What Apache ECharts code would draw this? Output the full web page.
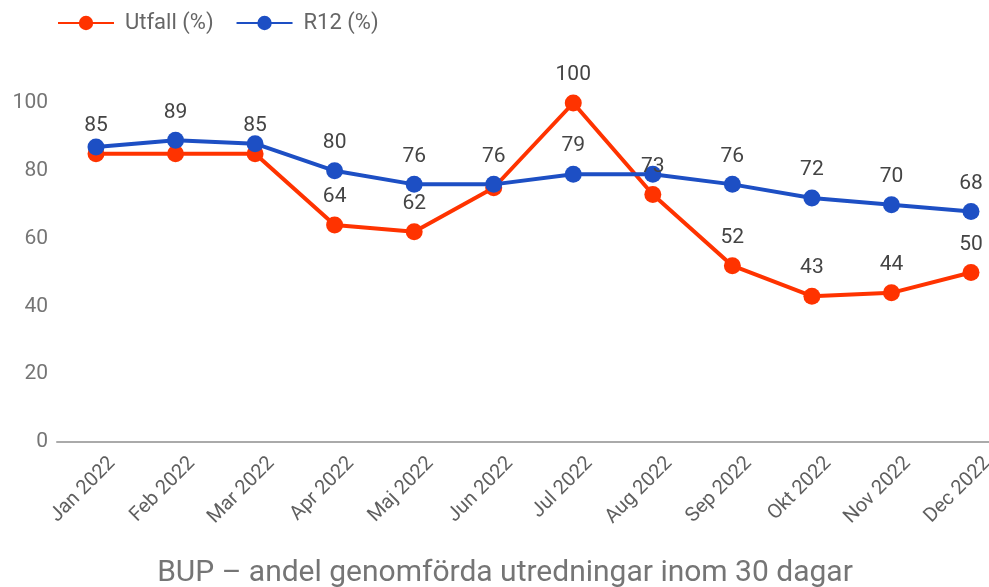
<!DOCTYPE html>
<html>
<head>
<meta charset="utf-8">
<script src="https://cdn.jsdelivr.net/npm/echarts@6/dist/echarts.min.js"></script>
<style>
  html, body { margin: 0; padding: 0; background: #fff; }
  #chart { width: 989px; height: 587px; }
</style>
</head>
<body>
<div id="chart"></div>
<script>
// kategorier och värden
var months = ['Jan 2022', 'Feb 2022', 'Mar 2022', 'Apr 2022', 'Maj 2022', 'Jun 2022',
  'Jul 2022', 'Aug 2022', 'Sep 2022', 'Okt 2022', 'Nov 2022', 'Dec 2022'];
var utfall = [85, 85, 85, 64, 62, 75, 100, 73, 52, 43, 44, 50];
var r12 = [87, 89, 88, 80, 76, 76, 79, 79, 76, 72, 70, 68];
var yTicks = [0, 20, 40, 60, 80, 100];

// etiketter som döljs där de krockar
var utfallHidden = [1, 5];
var r12Hidden = [0, 2, 7];

function withLabels(values, hidden) {
  return values.map(function (v, i) {
    return hidden.indexOf(i) >= 0 ? { value: v, label: { show: false } } : v;
  });
}

window.onload = function () {
  var chart = echarts.init(document.getElementById('chart'));
  var font = 'Roboto, sans-serif';

  var option = {
    backgroundColor: '#fff',
    textStyle: { fontFamily: font },
    title: {
      text: 'BUP \u2013 andel genomförda utredningar inom 30 dagar',
      left: 500,
      textAlign: 'center',
      bottom: -6,
      textStyle: { fontFamily: font, fontSize: 30, fontWeight: 'normal', color: '#757575' }
    },
    legend: {
      left: 52,
      top: 7,
      itemWidth: 56,
      itemHeight: 18,
      itemGap: 22,
      textStyle: { fontFamily: font, fontSize: 22, color: '#666', padding: [0, 0, 0, 6] },
      data: ['Utfall (%)', 'R12 (%)']
    },
    grid: [
      { left: 57, right: 0, top: 103, bottom: 145, outerBoundsMode: 'none' },
      { left: 96, right: 18, top: 103, bottom: 145, outerBoundsMode: 'none' }
    ],
    xAxis: [
      {
        gridIndex: 0,
        type: 'value',
        min: 0,
        max: 1,
        axisLine: { show: true, lineStyle: { color: '#aaa', width: 2 } },
        axisTick: { show: false },
        axisLabel: { show: false },
        splitLine: { show: false }
      },
      {
        gridIndex: 1,
        type: 'category',
        boundaryGap: false,
        data: months,
        axisLine: { show: false },
        axisTick: { show: false },
        axisLabel: {
          rotate: 45,
          interval: 0,
          margin: 2,
          align: 'right',
          verticalAlign: 'top',
          lineHeight: 46,
          fontFamily: font,
          fontSize: 20,
          color: '#5f5f5f'
        }
      }
    ],
    yAxis: [
      {
        gridIndex: 0,
        type: 'value',
        min: yTicks[0],
        max: yTicks[yTicks.length - 1],
        interval: yTicks[1] - yTicks[0],
        axisLine: { show: false },
        axisTick: { show: false },
        splitLine: { show: false },
        axisLabel: { margin: 9, fontFamily: font, fontSize: 21, color: '#757575' }
      },
      {
        gridIndex: 1,
        type: 'value',
        min: yTicks[0],
        max: yTicks[yTicks.length - 1],
        show: false,
        splitLine: { show: false }
      }
    ],
    series: [
      {
        name: 'Utfall (%)',
        type: 'line',
        xAxisIndex: 1,
        yAxisIndex: 1,
        data: withLabels(utfall, utfallHidden),
        symbol: 'circle',
        symbolSize: 17,
        lineStyle: { width: 4, color: '#ff3300' },
        itemStyle: { color: '#ff3300' },
        label: { show: true, position: 'top', distance: 9, fontFamily: font, fontSize: 21, color: '#444' }
      },
      {
        name: 'R12 (%)',
        type: 'line',
        xAxisIndex: 1,
        yAxisIndex: 1,
        data: withLabels(r12, r12Hidden),
        symbol: 'circle',
        symbolSize: 17,
        lineStyle: { width: 4, color: '#1d4fc4' },
        itemStyle: { color: '#1d4fc4' },
        label: { show: true, position: 'top', distance: 9, fontFamily: font, fontSize: 21, color: '#444' }
      }
    ]
  };

  chart.setOption(option);
};
</script>
</body>
</html>
